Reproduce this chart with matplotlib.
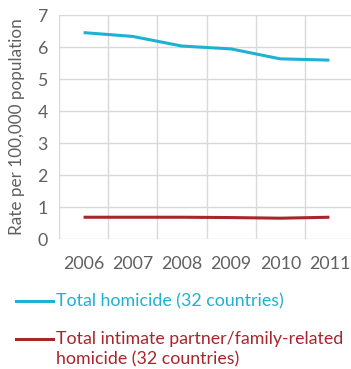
import matplotlib.pyplot as plt
from matplotlib.lines import Line2D

# Data
years = ['2006', '2007', '2008', '2009', '2010', '2011']
total_homicide = [6.45, 6.33, 6.03, 5.94, 5.63, 5.59]
family_homicide = [0.68, 0.68, 0.68, 0.67, 0.65, 0.68]
labels = ['Total homicide (32 countries)',
          'Total intimate partner/family-related\nhomicide (32 countries)']
colors = ['#1fb1d0', '#a8262b']

plt.rcParams['font.family'] = ['Lato', 'DejaVu Sans']
text_grey = '#606060'

fig = plt.figure(figsize=(3.51, 3.69), dpi=100)
ax = fig.add_axes([59 / 351, 1 - 239 / 369, 295 / 351, 224 / 369])

x = list(range(len(years)))
ax.plot(x, total_homicide, color=colors[0], lw=2.2, solid_capstyle='butt')
ax.plot(x, family_homicide, color=colors[1], lw=2.2, solid_capstyle='butt')

ax.set_xlim(-0.5, len(years) - 0.5)
ax.set_ylim(0, 7)
ax.set_yticks(range(8))
ax.set_xticks(x)
ax.set_xticklabels(years)

# gridlines at category boundaries, like Excel
ax.set_xticks([i + 0.5 for i in range(-1, len(years))], minor=True)
ax.grid(True, which='minor', axis='x', color='#d9d9d9', lw=1)
ax.grid(True, which='major', axis='y', color='#d9d9d9', lw=1)
ax.set_axisbelow(True)
for s in ax.spines.values():
    s.set_visible(False)
ax.tick_params(which='both', length=0)
ax.tick_params(axis='both', labelsize=12.8, colors=text_grey)
ax.tick_params(axis='x', pad=12)
ax.tick_params(axis='y', pad=8)
ax.set_ylabel('Rate per 100,000 population', color=text_grey, fontsize=12.3,
              labelpad=9)

# legend drawn by hand so the handle sits on the first text line
for i, (lab, col) in enumerate(zip(labels, colors)):
    yy = 1 - (301 + 38 * i) / 369
    fig.add_artist(Line2D([16 / 351, 53 / 351], [yy, yy], color=col, lw=2.2,
                          transform=fig.transFigure))
    fig.text(56 / 351, yy + 8 / 369, lab, color=col, fontsize=12.8, va='top',
             linespacing=1.3)

fig.savefig('out.png', dpi=100)
